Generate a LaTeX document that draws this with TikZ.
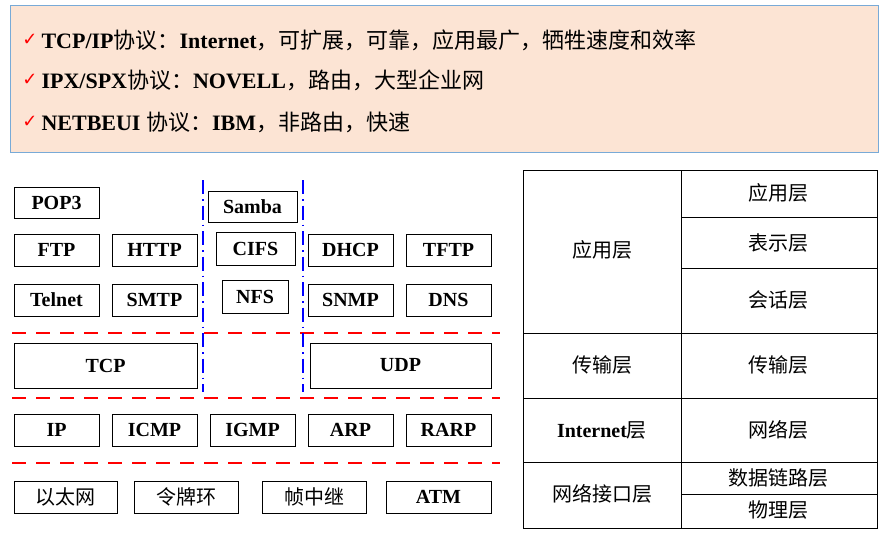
\documentclass[tikz,border=0pt]{standalone}
\usepackage{fontspec}
\setmainfont{Liberation Serif}
\newfontfamily\cjk{Noto Sans CJK SC}
\newfontfamily\symfont{DejaVu Sans}
\usetikzlibrary{positioning}
\definecolor{peach}{RGB}{252,228,212}
\definecolor{rimblue}{RGB}{120,170,215}
\tikzset{
  proto/.style={draw, thick, fill=white, inner sep=0pt, font=\bfseries\fontsize{20}{20}\selectfont},
  layer/.style={font=\cjk\fontsize{20}{20}\selectfont},
  cut/.style={red, line width=2pt, dash pattern=on 14pt off 10pt},
  split/.style={blue, line width=1.6pt, dash pattern=on 14pt off 5pt on 1.5pt off 5pt},
}
\newcommand{\pbox}[6]{\node[proto, minimum width=#3pt-#2pt, minimum height=#5pt-#4pt] (#1) at ({(#2+#3)/2}, {(#4+#5)/2}) {#6};}
\begin{document}
\begin{tikzpicture}[x=1pt, y=-1pt]
 \useasboundingbox (0,0) rectangle (887,535);

 %notes
 \node[draw=rimblue, thick, fill=peach, minimum width=868pt, minimum height=147pt, inner sep=0pt] (notes) at (444,78.5) {};
 \foreach \y/\txt in {40/{TCP/IP{\cjk\mdseries 协议：}Internet{\cjk\mdseries ，可扩展，可靠，应用最广，牺牲速度和效率}},
                      80/{IPX/SPX{\cjk\mdseries 协议：}NOVELL{\cjk\mdseries ，路由，大型企业网}},
                      122/{NETBEUI {\cjk\mdseries 协议：}IBM{\cjk\mdseries ，非路由，快速}}} {
   \node[anchor=west, font=\bfseries\fontsize{22}{22}\selectfont] at (38,\y) {\txt};
   \node[red, font=\symfont\fontsize{18}{18}\selectfont] at (30,\y) {✓};
 }

 %application
 \pbox{pop}{14}{99}{187}{218}{POP3}
 \pbox{samba}{208}{297}{191}{222}{Samba}
 \pbox{ftp}{14}{99}{234}{266}{FTP}
 \pbox{http}{112}{197}{234}{266}{HTTP}
 \pbox{cifs}{216}{295}{232}{265}{CIFS}
 \pbox{dhcp}{308}{393}{234}{266}{DHCP}
 \pbox{tftp}{406}{491}{234}{266}{TFTP}
 \pbox{telnet}{14}{99}{284}{316}{Telnet}
 \pbox{smtp}{112}{197}{284}{316}{SMTP}
 \pbox{nfs}{222}{288}{280}{313}{NFS}
 \pbox{snmp}{308}{393}{284}{316}{SNMP}
 \pbox{dns}{406}{491}{284}{316}{DNS}

 %transport
 \pbox{tcp}{14}{197}{343}{388}{TCP}
 \pbox{udp}{310}{491}{343}{388}{UDP}

 %internet
 \foreach \n/\a/\b/\t in {ip/14/99/IP, icmp/112/197/ICMP, igmp/210/295/IGMP, arp/308/393/ARP, rarp/406/491/RARP} {
   \pbox{\n}{\a}{\b}{414}{446}{\t}
 }

 %link
 \foreach \n/\a/\b/\t in {eth/14/117/以太网, ring/134/238/令牌环, frame/262/366/帧中继} {
   \pbox{\n}{\a}{\b}{481}{513}{\cjk\mdseries\t}
 }
 \pbox{atm}{386}{491}{481}{513}{ATM}

 %cuts
 \foreach \y in {333, 398, 463}
   \draw[cut] (12,\y) -- (500,\y);
 \foreach \x in {203, 303}
   \draw[split] (\x,180) -- (\x,392);

 %osi table
 \draw[thick] (523,170) rectangle (877,528);
 \draw[thick] (681,170) -- (681,528);
 \foreach \y in {333, 398, 462}
   \draw[thick] (523,\y) -- (877,\y);
 \foreach \y in {217, 268, 494}
   \draw[thick] (681,\y) -- (877,\y);
 \node[layer] (tapp) at (602,250) {应用层};
 \node[layer] (tra) at (602,365) {传输层};
 \node[layer] (tnet) at (602,430) {{\bfseries\fontspec{Liberation Serif}Internet}层};
 \node[layer] (tlink) at (602,494) {网络接口层};
 \node[layer] (oapp) at (778,193) {应用层};
 \node[layer] (opre) at (778,243) {表示层};
 \node[layer] (oses) at (778,300) {会话层};
 \node[layer] (otra) at (778,365) {传输层};
 \node[layer] (onet) at (778,430) {网络层};
 \node[layer] (odl) at (778,478) {数据链路层};
 \node[layer] (ophy) at (778,510) {物理层};
\end{tikzpicture}
\end{document}
